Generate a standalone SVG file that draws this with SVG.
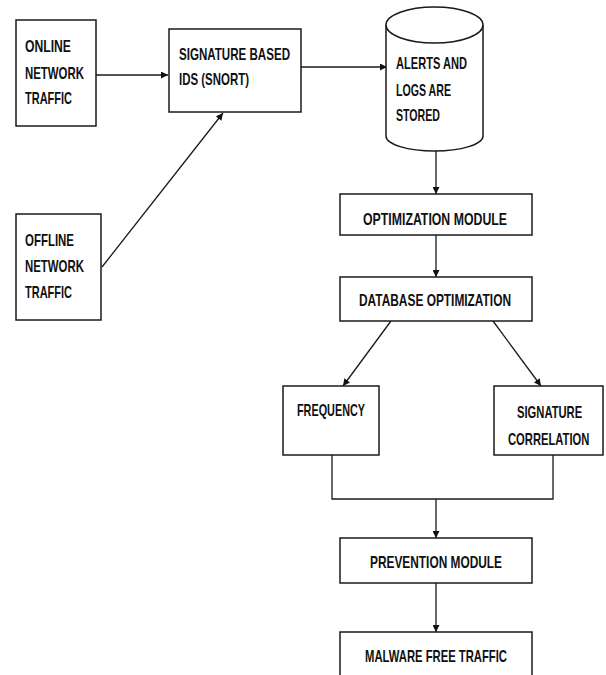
<svg xmlns="http://www.w3.org/2000/svg" width="606" height="675" viewBox="0 0 606 675">
<style>
.box{fill:#fff;stroke:#1a1a1a;stroke-width:1.5}
.ln{fill:none;stroke:#1a1a1a;stroke-width:1.3}
.t{font-family:"Liberation Sans",Arial,sans-serif;font-size:17px;font-weight:bold;fill:#111}
</style>
<defs>
<marker id="ah" viewBox="0 0 10 10" refX="10" refY="5" markerWidth="9" markerHeight="7" markerUnits="userSpaceOnUse" orient="auto"><path d="M0,0 L10,5 L0,10 z" fill="#111"/></marker>
</defs>
<rect width="606" height="675" fill="#fff"/>
<g id="connectors">
<line class="ln" x1="96" y1="75" x2="168" y2="75" marker-end="url(#ah)"/>
<line class="ln" x1="301" y1="67" x2="387" y2="67" marker-end="url(#ah)"/>
<line class="ln" x1="102" y1="267" x2="223" y2="113" marker-end="url(#ah)"/>
<line class="ln" x1="436" y1="151" x2="436" y2="194" marker-end="url(#ah)"/>
<line class="ln" x1="436" y1="235" x2="436" y2="277" marker-end="url(#ah)"/>
<line class="ln" x1="391" y1="321" x2="343" y2="386" marker-end="url(#ah)"/>
<line class="ln" x1="493" y1="321" x2="541" y2="386" marker-end="url(#ah)"/>
<polyline class="ln" points="332,455 332,499 553,499 553,455"/>
<line class="ln" x1="436" y1="499" x2="436" y2="538" marker-end="url(#ah)"/>
<line class="ln" x1="436" y1="583" x2="436" y2="632" marker-end="url(#ah)"/>
</g>
<g id="online">
<rect class="box" x="16" y="20" width="80" height="106"/>
<text class="t" x="25" y="52" textLength="46" lengthAdjust="spacingAndGlyphs">ONLINE</text>
<text class="t" x="25" y="79" textLength="59" lengthAdjust="spacingAndGlyphs">NETWORK</text>
<text class="t" x="25" y="104" textLength="47" lengthAdjust="spacingAndGlyphs">TRAFFIC</text>
</g>
<g id="offline">
<rect class="box" x="16" y="214" width="85" height="106"/>
<text class="t" x="25" y="246" textLength="49" lengthAdjust="spacingAndGlyphs">OFFLINE</text>
<text class="t" x="25" y="272" textLength="59" lengthAdjust="spacingAndGlyphs">NETWORK</text>
<text class="t" x="25" y="298" textLength="47" lengthAdjust="spacingAndGlyphs">TRAFFIC</text>
</g>
<g id="snort">
<rect class="box" x="169" y="29" width="132" height="83"/>
<text class="t" x="179" y="60" textLength="111" lengthAdjust="spacingAndGlyphs">SIGNATURE  BASED</text>
<text class="t" x="179" y="85" textLength="70" lengthAdjust="spacingAndGlyphs">IDS (SNORT)</text>
</g>
<g id="alerts">
<path class="box" d="M386,25 L386,136 A48.5,15 0 0 0 483,136 L483,25"/>
<ellipse class="box" cx="434.5" cy="25" rx="48.5" ry="18"/>
<text class="t" x="396" y="69" textLength="71" lengthAdjust="spacingAndGlyphs">ALERTS AND</text>
<text class="t" x="396" y="96" textLength="55" lengthAdjust="spacingAndGlyphs">LOGS ARE</text>
<text class="t" x="396" y="121" textLength="44" lengthAdjust="spacingAndGlyphs">STORED</text>
</g>
<g id="optimization">
<rect class="box" x="340" y="194" width="192" height="41"/>
<text class="t" x="363" y="225" textLength="144" lengthAdjust="spacingAndGlyphs">OPTIMIZATION MODULE</text>
</g>
<g id="database">
<rect class="box" x="340" y="277" width="192" height="44"/>
<text class="t" x="359" y="306" textLength="152" lengthAdjust="spacingAndGlyphs">DATABASE OPTIMIZATION</text>
</g>
<g id="frequency">
<rect class="box" x="283" y="386" width="96" height="69"/>
<text class="t" x="297" y="416" textLength="68" lengthAdjust="spacingAndGlyphs">FREQUENCY</text>
</g>
<g id="sigcorr">
<rect class="box" x="494" y="386" width="109" height="69"/>
<text class="t" transform="translate(517,418) scale(0.66,1)">SIGNATURE</text>
<text class="t" transform="translate(508,445) scale(0.66,1)">CORRELATION</text>
</g>
<g id="prevention">
<rect class="box" x="340" y="538" width="192" height="45"/>
<text class="t" x="370" y="568" textLength="132" lengthAdjust="spacingAndGlyphs">PREVENTION MODULE</text>
</g>
<g id="malware">
<rect class="box" x="340" y="632" width="192" height="60"/>
<text class="t" x="365" y="662" textLength="142" lengthAdjust="spacingAndGlyphs">MALWARE FREE TRAFFIC</text>
</g>
</svg>
